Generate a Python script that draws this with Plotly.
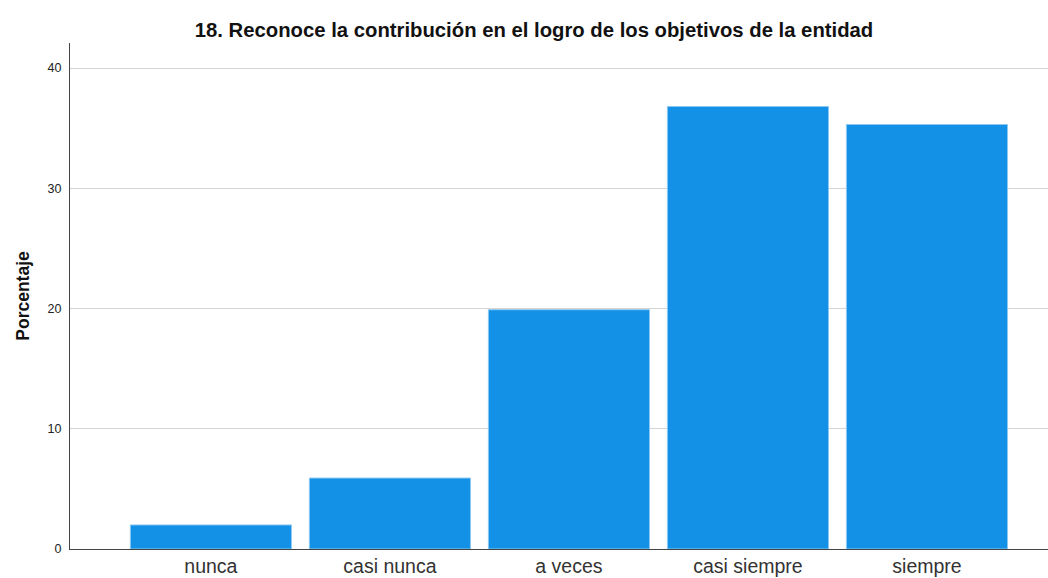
import plotly.graph_objects as go

categories = ["nunca", "casi nunca", "a veces", "casi siempre", "siempre"]
percentages = [2.0, 5.9, 19.9, 36.8, 35.3]
y_ticks = [0, 10, 20, 30, 40]

title_text = "18. Reconoce la contribución en el logro de los objetivos de la entidad"
y_title = "Porcentaje"

fig = go.Figure(
    go.Bar(
        x=list(range(len(categories))),
        y=percentages,
        width=0.9,
        marker=dict(color="#1391E6", line=dict(color="#8CC8F2", width=1)),
        hoverinfo="skip",
    )
)

fig.update_layout(
    width=1048,
    height=578,
    margin=dict(l=70, r=0, t=43, b=29),
    paper_bgcolor="white",
    plot_bgcolor="white",
    showlegend=False,
    font=dict(family="Liberation Sans, Arial, sans-serif", color="#222"),
    title=dict(
        text="<b>" + title_text + "</b>",
        x=534 / 1048,
        xanchor="center",
        y=1 - 30 / 578,
        yanchor="middle",
        font=dict(size=20.3, color="#111"),
    ),
    bargap=0.1,
)

fig.update_xaxes(
    tickmode="array",
    tickvals=list(range(len(categories))),
    ticktext=categories,
    range=[-0.787, 4.676],
    showline=True,
    linecolor="#444",
    linewidth=1,
    showgrid=False,
    ticks="",
    ticklabelstandoff=0,
    automargin=False,
    tickfont=dict(size=19.5, color="#333"),
    fixedrange=True,
)

fig.update_yaxes(
    tickmode="array",
    tickvals=y_ticks,
    range=[0, 42.08],
    showline=True,
    linecolor="#444",
    linewidth=1,
    showgrid=True,
    gridcolor="#D4D4D4",
    gridwidth=1,
    zeroline=False,
    ticks="",
    ticklabelstandoff=5,
    automargin=False,
    tickfont=dict(size=12.5, color="#222"),
    title=dict(text="<b>" + y_title + "</b>", font=dict(size=17.5, color="#111"), standoff=13),
    fixedrange=True,
)

fig.write_html(
    "out.html",
    config={"displayModeBar": False},
    post_script="document.body.style.margin='0';document.body.style.padding='0';",
)
